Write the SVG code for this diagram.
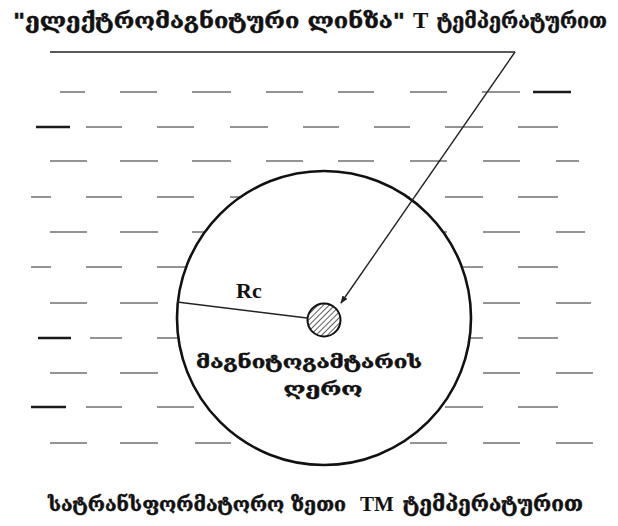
<svg xmlns="http://www.w3.org/2000/svg" width="618" height="526" viewBox="0 0 618 526">
<style>
.d{stroke:#707070;stroke-width:1.7;fill:none}
.dk{stroke:#1a1a1a;stroke-width:2.4;fill:none}
.ln{stroke:#222;stroke-width:1.4;fill:none}
.t{font-family:"DejaVu Serif","DejaVu Sans",serif;font-weight:bold;fill:#111;stroke:#111;stroke-width:0.5}
.l{font-family:"Liberation Serif",serif;font-weight:bold;fill:#111}
</style>
<defs>
<pattern id="hatch" width="4" height="4" patternUnits="userSpaceOnUse" patternTransform="rotate(45)">
<rect width="4" height="4" fill="#fff"/>
<line x1="0" y1="0" x2="0" y2="4" stroke="#333" stroke-width="1.6"/>
</pattern>
<marker id="arr" markerWidth="8" markerHeight="8" refX="7" refY="4" orient="auto" markerUnits="userSpaceOnUse">
<path d="M0,1 L8,4 L0,7 Z" fill="#222"/>
</marker>
</defs>
<rect width="618" height="526" fill="#fff"/>
<g id="oil">
<path class="d" d="M60,92H85M120,92H157M192,92H231M266,92H303M338,92H374M410,92H447M482,92H520"/>
<path class="dk" d="M533,92H571"/>
<path class="dk" d="M36,127H70"/>
<path class="d" d="M86,127H122M157,127H194M230,127H268M303,127H339M374,127H410M445,127H483M518,127H558"/>
<path class="d" d="M50,161H87M120,161H158M192,161H231M266,161H303M338,161H374M410,161H447M483,161H520M556,161H579"/>
<path class="d" d="M31,197H51M86,197H122M157,197H194M230,197H268M303,197H339M374,197H410M445,197H483M518,197H558"/>
<path class="d" d="M50,232H87M120,232H158M192,232H231M266,232H303M338,232H374M410,232H447M483,232H520M556,232H585"/>
<path class="d" d="M31,267H51M86,267H122M157,267H194M445,267H483M518,267H558"/>
<path class="d" d="M50,303H87M120,303H158M483,303H520M556,303H591"/>
<path class="dk" d="M38,338H71"/>
<path class="d" d="M90,338H122M157,338H194M445,338H483M518,338H558"/>
<path class="d" d="M50,373H87M120,373H158M483,373H520M556,373H593"/>
<path class="dk" d="M31,407H66"/>
<path class="d" d="M86,407H122M157,407H194M445,407H483M518,407H558"/>
<path class="d" d="M50,443H87M120,443H158M195,443H231M410,443H447M483,443H520M556,443H593"/>
</g>
<g id="lens">
<path class="ln" d="M50,52H515" stroke-width="1.8"/>
<text class="t" x="13" y="28" font-size="21" textLength="392" lengthAdjust="spacingAndGlyphs">"ელექტრომაგნიტური ლინზა"</text>
<text class="l" x="413" y="28" font-size="23">T</text>
<text class="t" x="437" y="28" font-size="21" textLength="170" lengthAdjust="spacingAndGlyphs">ტემპერატურით</text>
</g>
<g id="core-region">
<circle cx="324" cy="318" r="147" fill="#fff" stroke="#111" stroke-width="2.6"/>
<text class="t" x="309" y="368" font-size="17" text-anchor="middle" textLength="226" lengthAdjust="spacingAndGlyphs">მაგნიტოგამტარის</text>
<text class="t" x="323" y="395" font-size="17" text-anchor="middle" textLength="79" lengthAdjust="spacingAndGlyphs">ღერო</text>
</g>
<g id="core">
<circle cx="324" cy="320" r="16.5" fill="url(#hatch)" stroke="#111" stroke-width="2"/>
</g>
<g id="radius">
<text class="l" x="236" y="298" font-size="22">Rc</text>
</g>
<g id="connectors">
<path class="ln" d="M177,302L307,318" stroke-width="1.8"/>
<path class="ln" d="M515,52L341,303" marker-end="url(#arr)"/>
</g>
<g id="oil-label">
<text class="t" x="48" y="511" font-size="20" textLength="298" lengthAdjust="spacingAndGlyphs">სატრანსფორმატორო ზეთი</text>
<text class="l" x="360" y="511" font-size="21">TM</text>
<text class="t" x="403" y="511" font-size="21" textLength="180" lengthAdjust="spacingAndGlyphs">ტემპერატურით</text>
</g>
</svg>
